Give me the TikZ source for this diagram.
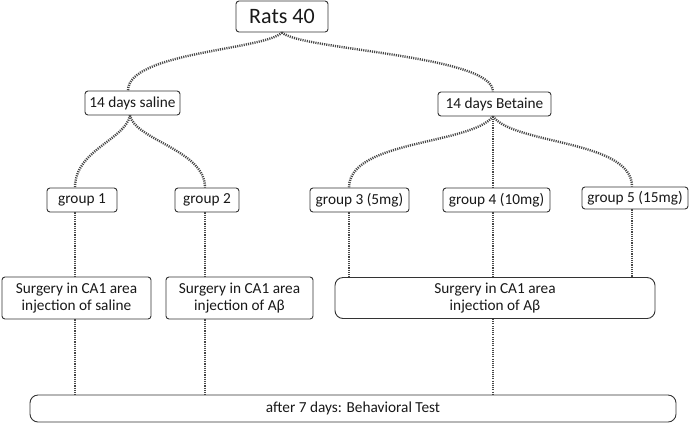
\documentclass[tikz,border=0pt]{standalone}
\usepackage{fontspec}
\setmainfont{Carlito}
\begin{document}
\begin{tikzpicture}[x=1pt,y=-1pt,
  box/.style={draw=black!80,line width=0.9pt,rounded corners=3pt,inner sep=0pt,align=center,text=black!90,font=\fontsize{15.3}{16.5}\selectfont},
  bigbox/.style={box,rounded corners=8pt},
  link/.style={draw=black!72,line width=2.4pt,dash pattern=on 1.1pt off 1.1pt}]
\fill[white] (0,0) rectangle (695,424);
\useasboundingbox (0,0) rectangle (695,424);
% nodes
\node[box,minimum width=92pt,minimum height=31pt,font=\fontsize{22}{24}\selectfont] (rats) at (282,16.5) {Rats 40};
\node[box,minimum width=95pt,minimum height=24pt] (sal) at (132.5,103) {14 days saline};
\node[box,minimum width=113pt,minimum height=24pt] (bet) at (494.5,104) {14 days Betaine};
\node[box,minimum width=70pt,minimum height=24pt] (g1) at (82,200) {group 1};
\node[box,minimum width=64pt,minimum height=24pt] (g2) at (207,200) {group 2};
\node[box,minimum width=99pt,minimum height=24pt] (g3) at (359.5,200) {group 3 (5mg)};
\node[box,minimum width=107pt,minimum height=24pt] (g4) at (496.5,200) {group 4 (10mg)};
\node[box,minimum width=106pt,minimum height=22pt] (g5) at (635,198) {group 5 (15mg)};
\node[box,minimum width=149pt,minimum height=42pt] (s1) at (76.5,298) {Surgery in CA1 area\\injection of saline};
\node[box,minimum width=147pt,minimum height=42pt] (s2) at (239.5,298) {Surgery in CA1 area\\injection of Aβ};
\node[bigbox,minimum width=320pt,minimum height=41pt] (s3) at (495,298) {Surgery in CA1 area\\injection of Aβ};
\node[bigbox,minimum width=646pt,minimum height=27pt] (bt) at (353,408.5) {after 7 days: Behavioral Test};
% x positions
\coordinate (xa) at (128,0);
\coordinate (xb) at (493,0);
\coordinate (xs) at (130,0);
\coordinate (x1) at (75,0);
\coordinate (x2) at (205,0);
\coordinate (x3) at (349,0);
\coordinate (x4) at (493,0);
\coordinate (x5) at (632,0);
\coordinate (y1) at (0,212);
\coordinate (y2) at (0,395);
% tree connectors
\draw[link] (rats.south) .. controls (265,50) and (128,52) .. (sal.north -| xa);
\draw[link] (rats.south) .. controls (300,50) and (493,55) .. (bet.north -| xb);
\draw[link] (sal.south -| xs) .. controls (125,140) and (75,150) .. (g1.north -| x1);
\draw[link] (sal.south -| xs) .. controls (135,140) and (205,150) .. (g2.north -| x2);
\draw[link] (bet.south -| xb) .. controls (470,145) and (349,140) .. (g3.north -| x3);
\draw[link] (bet.south -| xb) -- (g4.north -| x4);
\draw[link] (bet.south -| xb) .. controls (515,145) and (632,140) .. (g5.north -| x5);
% verticals
\draw[link] (g1.south -| x1) -- (s1.north -| x1);
\draw[link] (g2.south -| x2) -- (s2.north -| x2);
\draw[link] (g3.south -| x3) -- (s3.north -| x3);
\draw[link] (g4.south -| x4) -- (s3.north -| x4);
\draw[link] (g5.south -| x5) -- (s3.north -| x5);
\draw[link] (s1.south -| x1) -- (bt.north -| x1);
\draw[link] (s2.south -| x2) -- (bt.north -| x2);
\draw[link] (s3.south -| x4) -- (bt.north -| x4);
\end{tikzpicture}
\end{document}
